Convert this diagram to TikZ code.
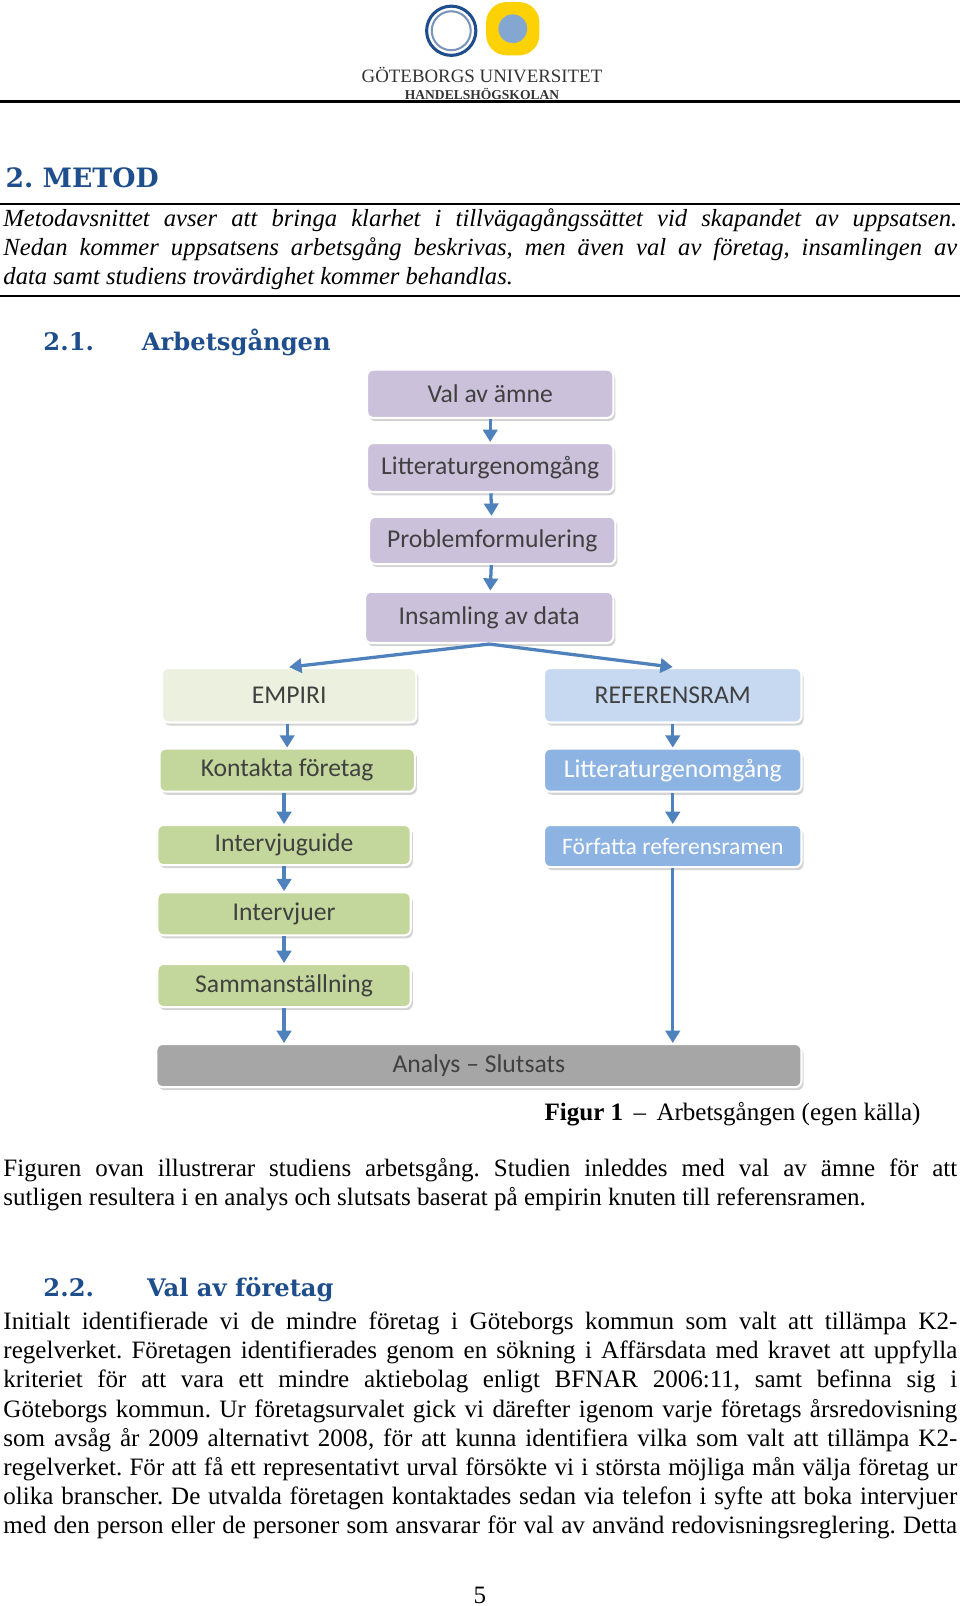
\documentclass[tikz,border=0pt]{standalone}
\usepackage{fontspec}
\setmainfont{Liberation Serif}
\newfontfamily\boxfont{Carlito}
\newfontfamily\headfont{DejaVu Serif}
\usetikzlibrary{arrows.meta,shadows}
\definecolor{hblue}{HTML}{1F4E8C}
\definecolor{arr}{HTML}{4F81BD}
\definecolor{purp}{HTML}{CCC1DA}
\definecolor{lgreen}{HTML}{EBF1DE}
\definecolor{mgreen}{HTML}{C3D69B}
\definecolor{lblue}{HTML}{C6D9F1}
\definecolor{mblue}{HTML}{8DB3E2}
\definecolor{gray1}{HTML}{A6A6A6}
\frenchspacing
\tikzset{
 x=0.5pt,y=-0.5pt,
 bx/.style={draw=white,line width=1pt,rounded corners=3pt,minimum width=#1*0.5pt,
   font=\boxfont\fontsize{12.5}{14}\selectfont,text=black!75,
   drop shadow={shadow xshift=1pt,shadow yshift=-1.5pt,opacity=0.35}},
 ar/.style={draw=arr,line width=1.6pt,-{Triangle[width=7pt,length=6pt]}},
 body/.style={anchor=north west,text width=465pt,align=justify,inner sep=0pt,
   font=\fontsize{12.2}{14.2}\selectfont},
 hd/.style={anchor=base west,inner sep=0pt,text=hblue,font=\headfont\bfseries\fontsize{11.8}{16}\selectfont},
 rl/.style={line width=1pt}
}
\begin{document}
\begin{tikzpicture}
\useasboundingbox (0,0) rectangle (936,1566);
% header
\node[circle,draw=hblue,line width=1.5pt,fill=white,minimum size=24pt] (logoA) at (440,30) {};
\node[circle,draw=hblue!60,line width=1pt,minimum size=19pt] (logoAi) at (440,30) {};
\node[shape=rectangle,rounded corners=10pt,fill=yellow!70!orange,minimum width=24pt,minimum size=26pt] (logoB) at (500,28) {};
\node[circle,fill=arr!70,minimum size=14pt] (logoBi) at (500,28) {};
\node[font=\fontsize{9.2}{10}\selectfont,text=black!80] (gu) at (470,73) {GÖTEBORGS UNIVERSITET};
\node[font=\bfseries\fontsize{6.6}{7}\selectfont,text=black!80] (hh) at (470,92) {HANDELSHÖGSKOLAN};
\draw[rl] (0,99) coordinate (l1a) -- (936,99) coordinate (l1b);
\node[hd,font=\headfont\bfseries\fontsize{13}{16}\selectfont] (h2) at (5,183) {2. METOD};
\draw[rl] (0,199) coordinate (l2a) -- (936,199) coordinate (l2b);
\node[body,font=\itshape\fontsize{12}{14.2}\selectfont] (intro) at (3,203) {Metodavsnittet avser att bringa klarhet i tillvägagångssättet vid skapandet av uppsatsen.\linebreak Nedan kommer uppsatsens arbetsgång beskrivas, men även val av företag, insamlingen av\linebreak data samt studiens trovärdighet kommer behandlas.};
\draw[rl] (0,289) coordinate (l3a) -- (936,289) coordinate (l3b);
\node[hd] (h21n) at (42,342) {2.1.};
\node[hd] (h21) at (138,342) {Arbetsgången};
% diagram
\node[bx=240,minimum height=23.5pt,fill=purp] (a) at (478,384) {Val av ämne};
\node[bx=240,minimum height=24pt,fill=purp] (b) at (478,456) {Litteraturgenomgång};
\node[bx=240,minimum height=23pt,fill=purp] (c) at (480,527) {Problemformulering};
\node[bx=242,minimum height=25pt,fill=purp] (d) at (477,602) {Insamling av data};
\node[bx=248,minimum height=26.5pt,fill=lgreen] (e) at (282,678) {EMPIRI};
\node[bx=251,minimum height=26.5pt,fill=lblue] (r) at (656,678) {REFERENSRAM};
\node[bx=249,minimum height=21pt,fill=mgreen] (e1) at (280,751) {Kontakta företag};
\node[bx=247,minimum height=19.5pt,fill=mgreen] (e2) at (277,824) {Intervjuguide};
\node[bx=247,minimum height=21pt,fill=mgreen] (e3) at (277,891) {Intervjuer};
\node[bx=247,minimum height=21pt,fill=mgreen] (e4) at (277,961) {Sammanställning};
\node[bx=251,minimum height=21pt,fill=mblue,text=white] (r1) at (656,751) {Litteraturgenomgång};
\node[bx=251,minimum height=20.5pt,fill=mblue,text=white,font=\boxfont\fontsize{11.5}{14}\selectfont] (r2) at (656,825) {Författa referensramen};
\node[bx=629,minimum height=21pt,fill=gray1] (f) at (467,1039) {Analys – Slutsats};
\draw[ar] (a) -- (b);
\draw[ar] (b) -- (c);
\draw[ar] (c) -- (d);
\draw[ar] (d.south) -- (e.north);
\draw[ar] (d.south) -- (r.north);
\draw[ar] (e.south -| e1) -- (e1);
\draw[ar] (e1.south -| e2) -- (e2);
\draw[ar] (e2) -- (e3);
\draw[ar] (e3) -- (e4);
\draw[ar] (e4) -- (e4 |- f.north);
\draw[ar] (r) -- (r1);
\draw[ar] (r1) -- (r2);
\draw[ar] (r2) -- (r2 |- f.north);
\node[anchor=base east,inner sep=0pt,font=\fontsize{12.2}{13}\selectfont] (cap) at (898,1093) {\textbf{Figur 1} \,–\, Arbetsgången (egen källa)};
\node[body] (p1) at (3,1129) {Figuren ovan illustrerar studiens arbetsgång. Studien inleddes med val av ämne för att\linebreak sutligen resultera i en analys och slutsats baserat på empirin knuten till referensramen.};
\node[hd] (h22n) at (42,1264) {2.2.};
\node[hd] (h22) at (143,1264) {Val av företag};
\node[body] (p2) at (3,1279) {Initialt identifierade vi de mindre företag i Göteborgs kommun som valt att tillämpa K2-\linebreak regelverket. Företagen identifierades genom en sökning i Affärsdata med kravet att uppfylla\linebreak kriteriet för att vara ett mindre aktiebolag enligt BFNAR 2006:11, samt befinna sig i\linebreak Göteborgs kommun. Ur företagsurvalet gick vi därefter igenom varje företags årsredovisning\linebreak som avsåg år 2009 alternativt 2008, för att kunna identifiera vilka som valt att tillämpa K2-\linebreak regelverket. För att få ett representativt urval försökte vi i största möjliga mån välja företag ur\linebreak olika branscher. De utvalda företagen kontaktades sedan via telefon i syfte att boka intervjuer\linebreak med den person eller de personer som ansvarar för val av använd redovisningsreglering. Detta\linebreak};
\node[font=\fontsize{12.2}{13}\selectfont] (pg) at (468,1556) {5};
\end{tikzpicture}
\end{document}
